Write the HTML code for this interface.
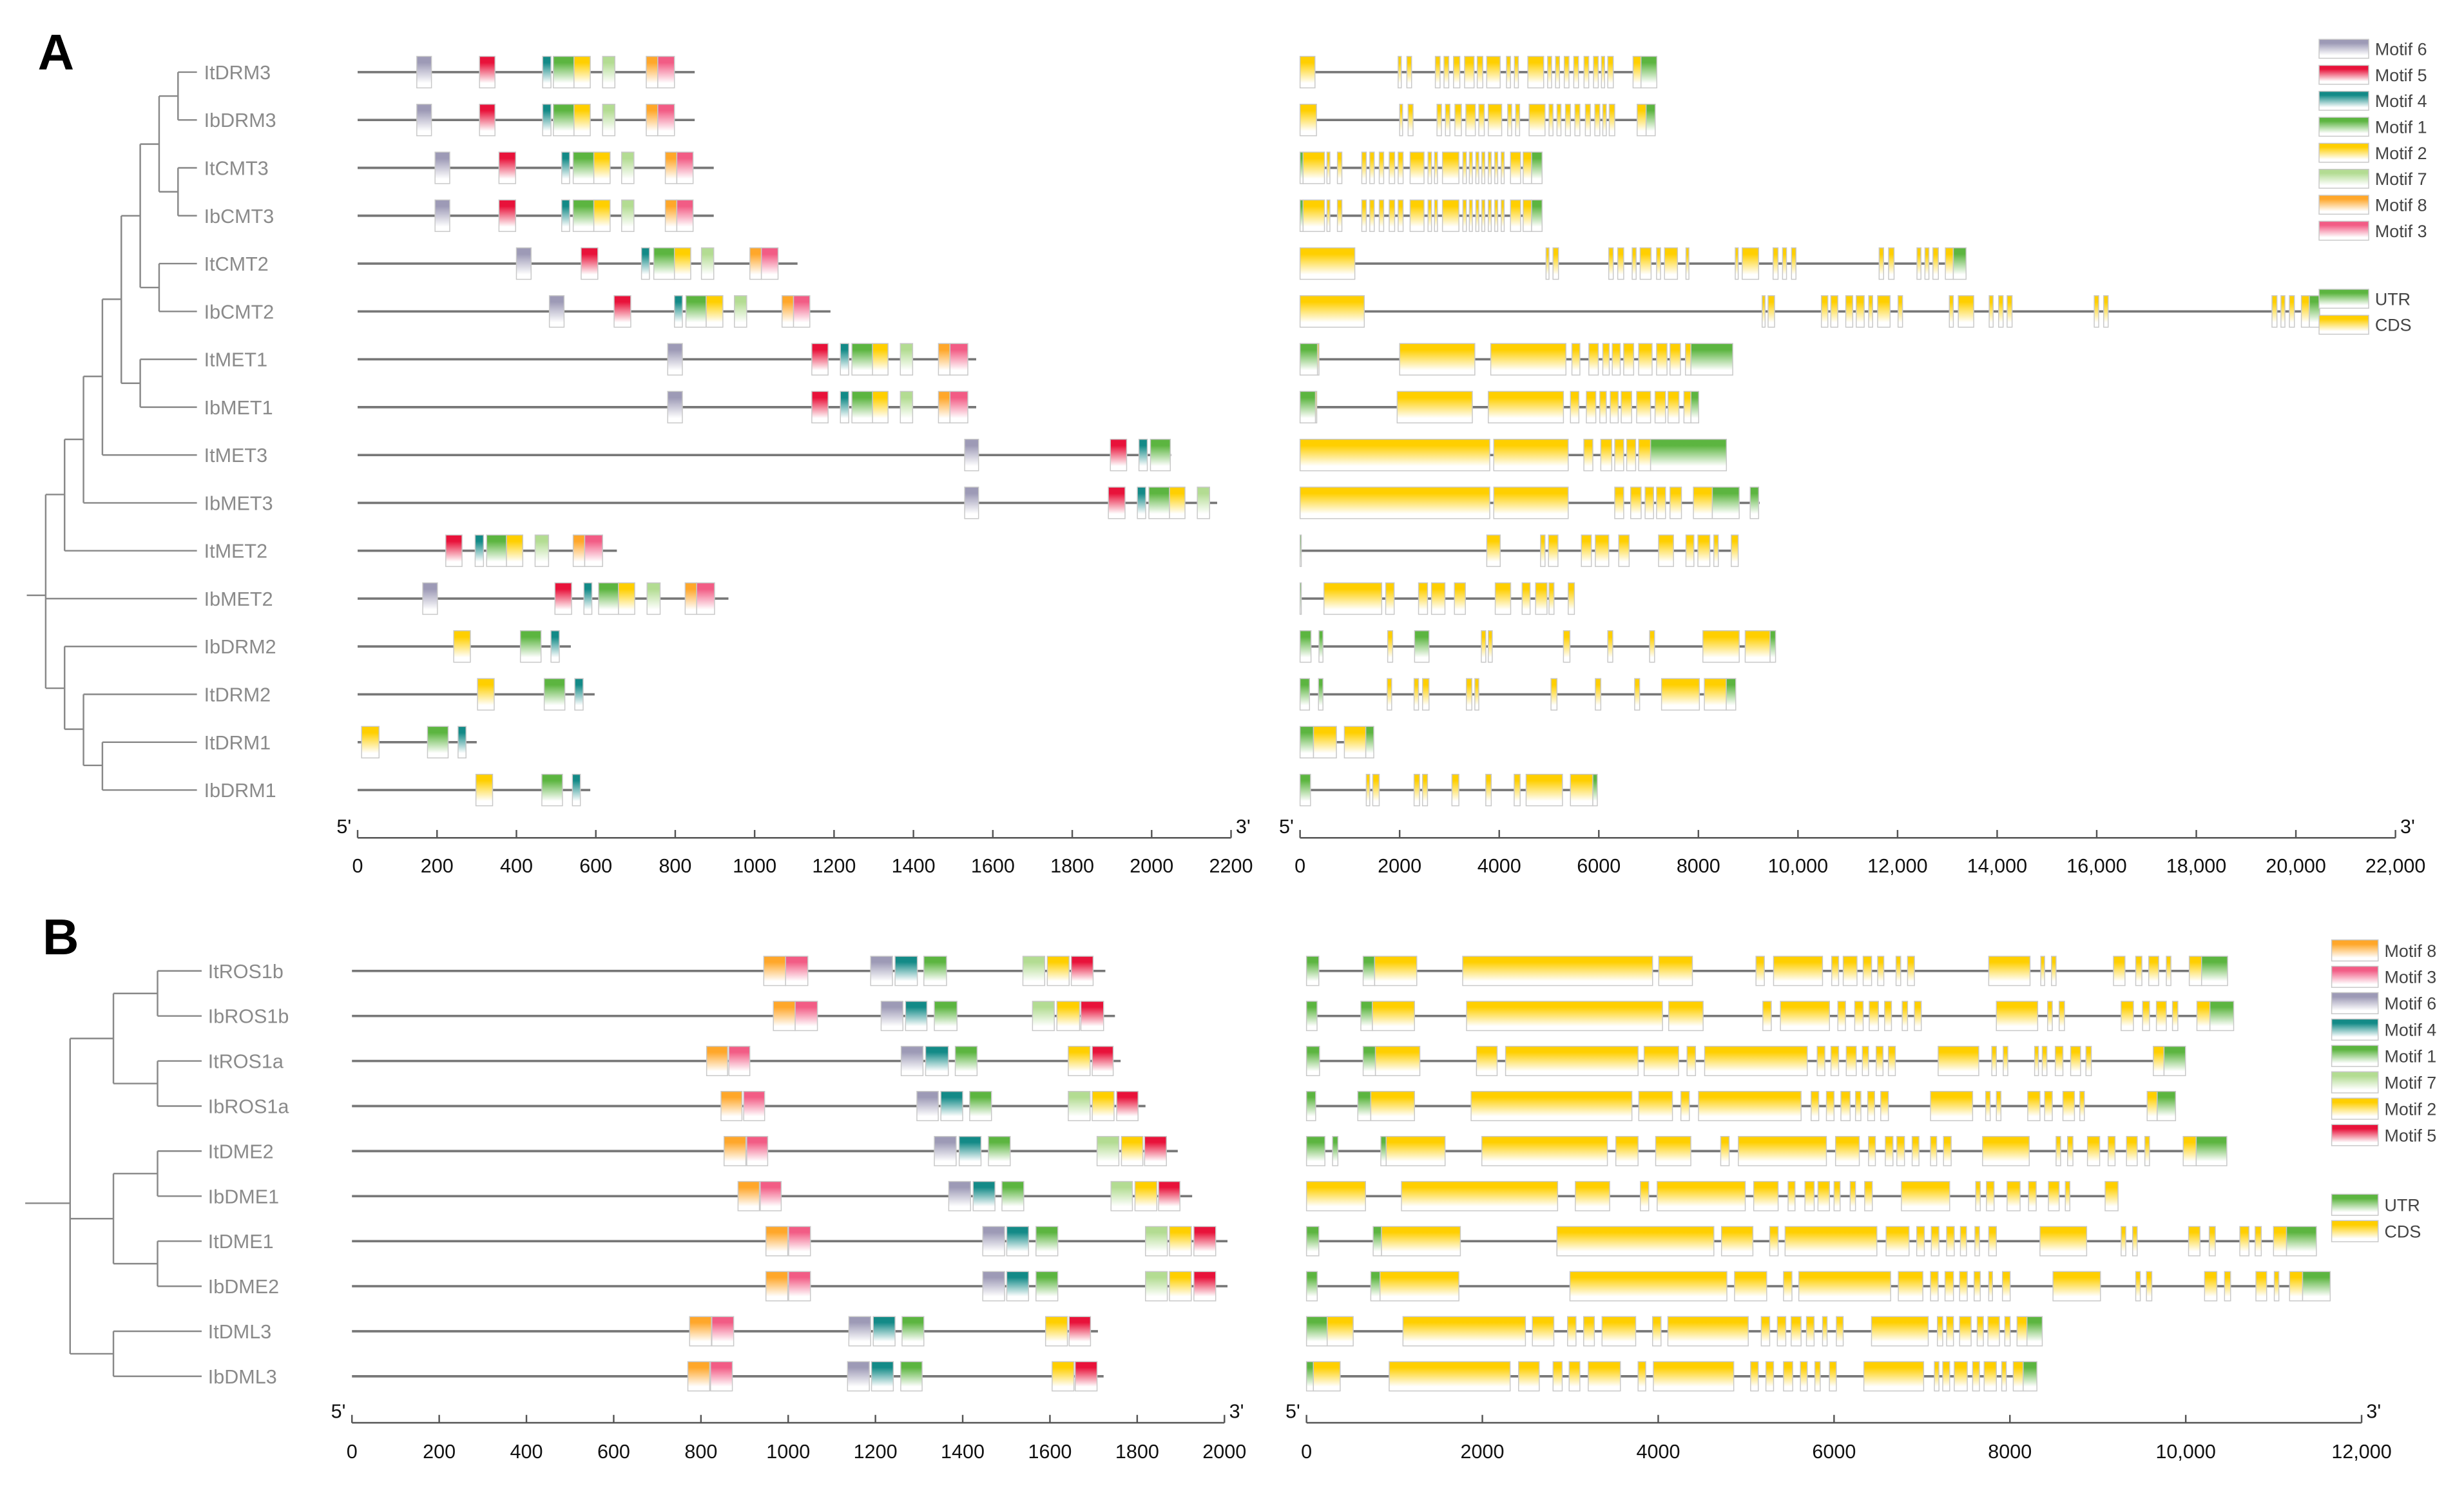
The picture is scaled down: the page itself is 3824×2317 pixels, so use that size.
<!DOCTYPE html>
<html><head><meta charset="utf-8">
<style>
html,body{margin:0;padding:0;background:#fff;}
svg{display:block;}
text{font-family:"Liberation Sans",sans-serif;}
</style></head>
<body>
<svg id="fig" xmlns="http://www.w3.org/2000/svg" width="3824" height="2317" viewBox="0 0 1564 948" preserveAspectRatio="none">
<defs id="defs"></defs>
<text x="24" y="44" font-size="32" font-weight="bold">A</text>
<text x="27" y="606" font-size="32" font-weight="bold">B</text>
<g id="treeA" stroke="#888" stroke-width="1" fill="none"></g>
<g id="treeB" stroke="#888" stroke-width="1" fill="none"></g>
<g id="plot"></g>
</svg>
<script>
// ---------- Panel A data ----------
const aNames = ["ItDRM3","IbDRM3","ItCMT3","IbCMT3","ItCMT2","IbCMT2","ItMET1","IbMET1","ItMET3","IbMET3","ItMET2","IbMET2","IbDRM2","ItDRM2","ItDRM1","IbDRM1"];
const aProtLen = [849,849,897,897,1108,1191,1558,1558,2049,2165,653,934,537,597,300,586];
const aMotifs = [
 [[6,149,186],[5,307,346],[4,466,487],[1,493,545],[2,545,586],[7,617,648],[8,727,756],[3,756,798]],
 [[6,149,186],[5,307,346],[4,466,487],[1,493,545],[2,545,586],[7,617,648],[8,727,756],[3,756,798]],
 [[6,195,232],[5,356,398],[4,514,534],[1,543,595],[2,595,636],[7,665,696],[8,775,804],[3,804,845]],
 [[6,195,232],[5,356,398],[4,514,534],[1,543,595],[2,595,636],[7,665,696],[8,775,804],[3,804,845]],
 [[6,400,437],[5,563,605],[4,715,735],[1,746,798],[2,798,839],[7,866,897],[8,988,1017],[3,1017,1059]],
 [[6,483,520],[5,646,688],[4,798,818],[1,827,878],[2,878,920],[7,949,980],[8,1069,1098],[3,1098,1139]],
 [[6,781,818],[5,1144,1185],[4,1216,1237],[1,1245,1297],[2,1297,1336],[7,1367,1398],[8,1463,1492],[3,1492,1537]],
 [[6,781,818],[5,1144,1185],[4,1216,1237],[1,1245,1297],[2,1297,1336],[7,1367,1398],[8,1463,1492],[3,1492,1537]],
 [[6,1529,1564],[5,1896,1937],[4,1968,1989],[1,1997,2047]],
 [[6,1529,1564],[5,1891,1933],[4,1964,1985],[1,1993,2045],[2,2045,2084],[7,2115,2146]],
 [[5,222,263],[4,296,317],[1,325,375],[2,375,416],[7,447,481],[8,543,572],[3,572,617]],
 [[6,164,201],[5,497,539],[4,570,590],[1,607,657],[2,657,698],[7,729,762],[8,825,854],[3,854,899]],
 [[2,242,284],[1,410,462],[4,487,508]],
 [[2,302,344],[1,470,522],[4,547,568]],
 [[2,10,54],[1,176,228],[4,253,273]],
 [[2,298,340],[1,464,516],[4,541,561]]
];
const aGeneLen = [7165,7133,4861,4861,13376,20480,8690,8006,8563,9230,8800,5510,9550,8750,1480,5970];
const aExons = [
 [[0,300,0],[1970,2033,0],[2145,2240,0],[2717,2812,0],[2891,2987,0],[3082,3209,0],[3304,3495,0],[3558,3670,0],[3749,4019,0],[4146,4226,0],[4305,4385,0],[4575,4893,0],[4972,5052,0],[5131,5211,0],[5306,5401,0],[5497,5592,0],[5703,5798,0],[5894,5989,0],[6053,6116,0],[6180,6291,0],[6688,6847,0],[6847,7165,1]],
 [[0,330,0],[2000,2060,0],[2170,2270,0],[2750,2840,0],[2920,3010,0],[3110,3240,0],[3330,3520,0],[3590,3700,0],[3780,4050,0],[4170,4250,0],[4330,4410,0],[4600,4920,0],[5000,5080,0],[5160,5240,0],[5330,5430,0],[5520,5620,0],[5730,5830,0],[5920,6020,0],[6080,6150,0],[6210,6320,0],[6770,6950,0],[6950,7133,1]],
 [[0,60,1],[60,490,0],[540,600,0],[750,840,0],[1240,1330,0],[1400,1490,0],[1590,1680,0],[1790,1900,0],[1970,2070,0],[2210,2490,0],[2570,2640,0],[2700,2760,0],[2860,3190,0],[3270,3340,0],[3400,3460,0],[3530,3590,0],[3650,3710,0],[3780,3840,0],[3910,3970,0],[4040,4100,0],[4226,4430,0],[4480,4650,0],[4650,4861,1]],
 [[0,60,1],[60,490,0],[540,600,0],[750,840,0],[1240,1330,0],[1400,1490,0],[1590,1680,0],[1790,1900,0],[1970,2070,0],[2210,2490,0],[2570,2640,0],[2700,2760,0],[2860,3190,0],[3270,3340,0],[3400,3460,0],[3530,3590,0],[3650,3710,0],[3780,3840,0],[3910,3970,0],[4040,4100,0],[4226,4430,0],[4480,4650,0],[4650,4861,1]],
 [[0,1100,0],[4940,5000,0],[5080,5190,0],[6200,6290,0],[6380,6500,0],[6670,6750,0],[6830,7050,0],[7160,7240,0],[7320,7580,0],[7750,7810,0],[8740,8800,0],[8880,9210,0],[9500,9600,0],[9690,9770,0],[9870,9960,0],[11630,11720,0],[11820,11930,0],[12390,12470,0],[12550,12630,0],[12710,12820,0],[12960,13120,0],[13120,13376,1]],
 [[0,1290,0],[9280,9340,0],[9400,9530,0],[10470,10600,0],[10660,10800,0],[10960,11100,0],[11170,11330,0],[11420,11500,0],[11600,11850,0],[12010,12100,0],[13040,13120,0],[13220,13530,0],[13840,13920,0],[14030,14120,0],[14200,14300,0],[15950,16040,0],[16140,16230,0],[19520,19620,0],[19700,19780,0],[19870,19970,0],[20110,20270,0],[20270,20480,1]],
 [[0,350,1],[350,380,0],[2000,3510,0],[3830,5340,0],[5460,5620,0],[5800,5990,0],[6080,6210,0],[6270,6430,0],[6500,6700,0],[6800,7070,0],[7160,7370,0],[7430,7640,0],[7740,7850,0],[7850,8690,1]],
 [[0,310,1],[310,330,0],[1950,3460,0],[3780,5290,0],[5430,5600,0],[5750,5940,0],[6020,6150,0],[6230,6390,0],[6450,6660,0],[6760,7040,0],[7130,7340,0],[7390,7610,0],[7710,7850,0],[7850,8006,1]],
 [[0,3810,0],[3890,5385,0],[5700,5880,0],[6040,6260,0],[6320,6500,0],[6560,6740,0],[6800,7040,0],[7040,8563,1]],
 [[0,3810,0],[3890,5385,0],[6320,6500,0],[6640,6850,0],[6930,7100,0],[7160,7340,0],[7430,7660,0],[7900,8280,0],[8280,8820,1],[9040,9210,1]],
 [[0,15,1],[3750,4020,0],[4830,4920,0],[4990,5180,0],[5650,5850,0],[5930,6200,0],[6400,6610,0],[7200,7500,0],[7750,7910,0],[7990,8230,0],[8310,8400,0],[8660,8800,0]],
 [[0,15,1],[480,1640,0],[1720,1890,0],[2380,2560,0],[2640,2910,0],[3100,3320,0],[3920,4230,0],[4460,4620,0],[4730,4960,0],[5000,5100,0],[5385,5510,0]],
 [[0,220,1],[380,460,1],[1760,1860,0],[2300,2590,1],[3640,3730,0],[3780,3860,0],[5290,5420,0],[6180,6280,0],[7020,7120,0],[8090,8820,0],[8940,9440,0],[9440,9550,1]],
 [[0,190,1],[370,460,1],[1750,1840,0],[2290,2380,0],[2460,2590,0],[3340,3450,0],[3510,3590,0],[5040,5160,0],[5930,6040,0],[6720,6820,0],[7260,8020,0],[8120,8560,0],[8560,8750,1]],
 [[0,270,1],[270,730,0],[890,1320,0],[1320,1480,1]],
 [[0,210,1],[1330,1400,0],[1460,1590,0],[2290,2400,0],[2460,2560,0],[3050,3190,0],[3730,3840,0],[4300,4420,0],[4540,5270,0],[5430,5880,0],[5880,5970,1]]
];
const aProtTicks = [0,200,400,600,800,1000,1200,1400,1600,1800,2000,2200];
const aGeneTicks = [0,2000,4000,6000,8000,10000,12000,14000,16000,18000,20000,22000];
const aGeneTickLabels = ["0","2000","4000","6000","8000","10,000","12,000","14,000","16,000","18,000","20,000","22,000"];
const aLegendMotifs = [6,5,4,1,2,7,8,3];

// ---------- Panel B data ----------
const bNames = ["ItROS1b","IbROS1b","ItROS1a","IbROS1a","ItDME2","IbDME1","ItDME1","IbDME2","ItDML3","IbDML3"];
const bProtLen = [1727,1749,1762,1819,1893,1926,2007,2007,1710,1723];
const bMotifs = [
 [[8,944,994],[3,994,1045],[6,1189,1239],[4,1245,1296],[1,1311,1363],[7,1538,1588],[2,1594,1644],[5,1649,1699]],
 [[8,966,1016],[3,1016,1067],[6,1213,1263],[4,1269,1318],[1,1335,1387],[7,1560,1610],[2,1616,1668],[5,1671,1723]],
 [[8,813,861],[3,864,912],[6,1259,1309],[4,1315,1367],[1,1383,1433],[2,1642,1692],[5,1697,1745]],
 [[8,846,894],[3,898,946],[6,1295,1344],[4,1350,1400],[1,1416,1466],[7,1642,1692],[2,1697,1747],[5,1753,1802]],
 [[8,853,903],[3,905,953],[6,1335,1385],[4,1392,1442],[1,1459,1509],[7,1708,1758],[2,1764,1813],[5,1817,1867]],
 [[8,885,934],[3,936,984],[6,1368,1418],[4,1424,1474],[1,1490,1540],[7,1740,1789],[2,1795,1845],[5,1849,1898]],
 [[8,949,999],[3,1001,1051],[6,1446,1496],[4,1501,1551],[1,1568,1618],[7,1819,1869],[2,1874,1924],[5,1930,1980]],
 [[8,949,999],[3,1001,1051],[6,1446,1496],[4,1501,1551],[1,1568,1618],[7,1819,1869],[2,1874,1924],[5,1930,1980]],
 [[8,774,824],[3,825,875],[6,1139,1189],[4,1195,1245],[1,1261,1311],[2,1590,1640],[5,1644,1693]],
 [[8,770,820],[3,822,872],[6,1136,1186],[4,1191,1241],[1,1258,1307],[2,1605,1655],[5,1658,1708]]
];
const bGeneLen = [10476,10545,9997,9884,10467,9230,11486,11643,8368,8307];
const bExons = [
 [[0,140,1],[644,775,1],[775,1254,0],[1776,3936,0],[4006,4389,0],[5112,5207,0],[5312,5869,0],[5973,6052,0],[6104,6261,0],[6331,6427,0],[6496,6566,0],[6705,6758,0],[6836,6914,0],[7759,8229,0],[8351,8395,0],[8473,8525,0],[9178,9309,0],[9431,9501,0],[9579,9692,0],[9779,9831,0],[10040,10180,0],[10180,10476,1]],
 [[0,120,1],[618,749,1],[749,1228,0],[1820,4049,0],[4119,4511,0],[5190,5286,0],[5390,5948,0],[6043,6130,0],[6235,6331,0],[6400,6505,0],[6575,6653,0],[6775,6836,0],[6914,6992,0],[7846,8316,0],[8429,8482,0],[8560,8621,0],[9265,9405,0],[9509,9588,0],[9666,9779,0],[9849,9910,0],[10127,10275,0],[10275,10545,1]],
 [[0,148,1],[644,784,1],[784,1289,0],[1933,2168,0],[2264,3771,0],[3840,4232,0],[4328,4424,0],[4528,5695,0],[5808,5895,0],[5965,6052,0],[6139,6252,0],[6322,6392,0],[6479,6557,0],[6618,6697,0],[7184,7646,0],[7794,7846,0],[7924,7976,0],[8281,8325,0],[8368,8421,0],[8516,8603,0],[8691,8804,0],[8865,8926,0],[9631,9753,0],[9753,9997,1]],
 [[0,104,1],[583,731,1],[731,1228,0],[1872,3701,0],[3779,4162,0],[4258,4354,0],[4458,5625,0],[5739,5826,0],[5913,6000,0],[6078,6183,0],[6244,6305,0],[6383,6461,0],[6531,6618,0],[7097,7576,0],[7724,7776,0],[7846,7898,0],[8203,8342,0],[8395,8482,0],[8603,8734,0],[8795,8847,0],[9561,9675,0],[9675,9884,1]],
 [[0,209,1],[296,357,1],[845,906,1],[906,1576,0],[1994,3422,0],[3518,3771,0],[3971,4371,0],[4711,4807,0],[4911,5913,0],[6017,6287,0],[6392,6470,0],[6583,6670,0],[6714,6801,0],[6888,6966,0],[7097,7167,0],[7245,7332,0],[7689,8220,0],[8525,8577,0],[8656,8717,0],[8882,9021,0],[9117,9196,0],[9326,9448,0],[9535,9588,0],[9971,10119,0],[10119,10467,1]],
 [[0,671,0],[1080,2856,0],[3057,3448,0],[3797,3892,0],[3988,4990,0],[5086,5364,0],[5477,5556,0],[5669,5774,0],[5817,5948,0],[6000,6069,0],[6183,6244,0],[6348,6435,0],[6766,7315,0],[7611,7663,0],[7733,7820,0],[7968,8116,0],[8212,8299,0],[8438,8560,0],[8630,8682,0],[9083,9230,0]],
 [[0,140,1],[758,853,1],[853,1750,0],[2848,4633,0],[4720,5077,0],[5268,5364,0],[5443,6487,0],[6592,6853,0],[6940,7027,0],[7106,7193,0],[7280,7367,0],[7437,7506,0],[7602,7654,0],[7759,7846,0],[8342,8873,0],[9265,9318,0],[9396,9448,0],[10032,10162,0],[10267,10336,0],[10615,10719,0],[10789,10859,0],[10998,11146,0],[11146,11486,1]],
 [[0,122,1],[731,836,1],[836,1733,0],[2996,4781,0],[4868,5234,0],[5425,5521,0],[5599,6644,0],[6731,7010,0],[7097,7184,0],[7262,7358,0],[7428,7515,0],[7593,7663,0],[7759,7802,0],[7915,8003,0],[8490,9030,0],[9431,9483,0],[9553,9614,0],[10214,10354,0],[10441,10510,0],[10798,10920,0],[11007,11059,0],[11181,11329,0],[11329,11643,1]],
 [[0,235,1],[235,531,0],[1097,2490,0],[2569,2813,0],[2969,3065,0],[3152,3274,0],[3361,3744,0],[3936,4032,0],[4110,5024,0],[5172,5268,0],[5355,5451,0],[5512,5625,0],[5686,5773,0],[5869,5921,0],[6026,6104,0],[6426,7071,0],[7175,7236,0],[7280,7358,0],[7428,7559,0],[7628,7698,0],[7750,7881,0],[7942,8003,0],[8081,8194,0],[8194,8368,1]],
 [[0,78,1],[78,383,0],[940,2316,0],[2412,2647,0],[2804,2908,0],[2987,3109,0],[3204,3570,0],[3771,3858,0],[3945,4859,0],[5051,5138,0],[5225,5312,0],[5425,5530,0],[5617,5695,0],[5782,5843,0],[5947,6026,0],[6339,7019,0],[7141,7193,0],[7236,7315,0],[7367,7515,0],[7576,7654,0],[7707,7846,0],[7907,7959,0],[8038,8151,0],[8151,8307,1]]
];
const bProtTicks = [0,200,400,600,800,1000,1200,1400,1600,1800,2000];
const bGeneTicks = [0,2000,4000,6000,8000,10000,12000];
const bGeneTickLabels = ["0","2000","4000","6000","8000","10,000","12,000"];
const bLegendMotifs = [8,3,6,4,1,7,2,5];

// ---------- styling ----------
const motifColors = {1:"#5cb540",2:"#ffcf00",3:"#f25c85",4:"#138a87",5:"#e8123a",6:"#9d9ab6",7:"#b3dc92",8:"#ffa72a"};
const utrColor = "#5cb540", cdsColor = "#ffcf00";
const NS = "http://www.w3.org/2000/svg";
const defs = document.getElementById('defs');
const plot = document.getElementById('plot');

function mk(tag, attrs, parent){
  const e = document.createElementNS(NS, tag);
  for (const k in attrs) e.setAttribute(k, attrs[k]);
  (parent||plot).appendChild(e);
  return e;
}
function grad(id, col){
  const g = mk('linearGradient',{id:id,x1:0,y1:0,x2:0,y2:1},defs);
  mk('stop',{offset:'0','stop-color':col},g);
  mk('stop',{offset:'0.2','stop-color':col},g);
  mk('stop',{offset:'0.85','stop-color':'#ffffff'},g);
  mk('stop',{offset:'1','stop-color':'#ffffff'},g);
}
for (const k in motifColors) grad('m'+k, motifColors[k]);
grad('utr', utrColor); grad('cds', cdsColor);

function scale(x0,x1,max){ return v => x0 + (x1-x0)*v/max; }

function box(g, x0, x1, y, h, fill){
  const r = mk('rect',{x:x0,y:y-h,width:Math.max(x1-x0,0.8),height:2*h,fill:'url(#'+fill+')',stroke:'#c8c8c8','stroke-width':0.6},g);
  return r;
}

function axis(g, sx, ticks, labels, y, labY, max){
  const ax = mk('g',{},g);
  
  
  mk('line',{x1:sx(0),x2:sx(max),y1:y,y2:y,stroke:'#555','stroke-width':1},ax);
  ticks.forEach((t,i)=>{
    mk('line',{x1:sx(t),x2:sx(t),y1:y-5,y2:y,stroke:'#555','stroke-width':1},ax);
    const tx = mk('text',{x:sx(t),y:labY,'font-size':12.5,'text-anchor':'middle',fill:'#111'},ax);
    tx.textContent = labels ? labels[i] : String(t);
    
    
  });
  const a = mk('text',{x:sx(0)-4,y:y-3,'font-size':12.5,'text-anchor':'end',fill:'#111'},ax); a.textContent="5'";
  const b = mk('text',{x:sx(max)+3,y:y-3,'font-size':12.5,fill:'#111'},ax); b.textContent="3'";
}

function panel(cfg){
  const sp = scale(cfg.px0,cfg.px1,cfg.pmax), sg = scale(cfg.gx0,cfg.gx1,cfg.gmax);
  cfg.names.forEach((nm,i)=>{
    const y = cfg.row0 + i*cfg.step;
    const lab = mk('text',{x:cfg.labX,y:y+4.5,'font-size':12.5,fill:'#8a8a8a'});
    lab.textContent = nm;
    
    
    const pg = mk('g',{});
    
    
    mk('line',{x1:sp(0),x2:sp(cfg.plen[i]),y1:y,y2:y,stroke:'#777','stroke-width':1.5},pg);
    cfg.motifs[i].forEach(m=>{
      const r = box(pg, sp(m[1]), sp(m[2]), y, cfg.h, 'm'+m[0]);
      
      
    });
    const gg = mk('g',{});
    
    
    mk('line',{x1:sg(0),x2:sg(cfg.glen[i]),y1:y,y2:y,stroke:'#777','stroke-width':1.5},gg);
    cfg.exons[i].forEach(e=>{
      const r = box(gg, sg(e[0]), sg(e[1]), y, cfg.h, e[2]?'utr':'cds');
      
      
    });
  });
  axis(plot, sp, cfg.pticks, null, cfg.axY, cfg.labY, cfg.pmax);
  axis(plot, sg, cfg.gticks, cfg.glabels, cfg.axY, cfg.labY, cfg.gmax);
  // legend
  const lg = mk('g',{});
  
  
  cfg.legend.forEach((m,i)=>{
    const y = cfg.legY0 + i*cfg.legStep;
    box(lg, cfg.legX, cfg.legX+cfg.legW, y, cfg.legH, 'm'+m);
    const t = mk('text',{x:cfg.legX+cfg.legW+4,y:y+4,'font-size':11,fill:'#444'},lg);
    t.textContent = 'Motif '+m;
    
    
  });
  [['utr','UTR'],['cds','CDS']].forEach((p,i)=>{
    const y = cfg.legU + i*cfg.legStep;
    box(lg, cfg.legX, cfg.legX+cfg.legW, y, cfg.legH, p[0]);
    const t = mk('text',{x:cfg.legX+cfg.legW+4,y:y+4,'font-size':11,fill:'#444'},lg);
    t.textContent = p[1];
    
    
  });
}

panel({names:aNames,plen:aProtLen,motifs:aMotifs,glen:aGeneLen,exons:aExons,
  px0:227,px1:781.4,pmax:2200,gx0:825.2,gx1:1520.5,gmax:22000,
  row0:45.8,step:30.39,h:10,labX:129.5,axY:532,labY:554,
  pticks:aProtTicks,gticks:aGeneTicks,glabels:aGeneTickLabels,
  legend:aLegendMotifs,legX:1472,legW:31.5,legH:6,legY0:31,legStep:16.5,legU:189.7});
panel({names:bNames,plen:bProtLen,motifs:bMotifs,glen:bGeneLen,exons:bExons,
  px0:223.4,px1:777.2,pmax:2000,gx0:829.3,gx1:1499,gmax:12000,
  row0:616.5,step:28.6,h:9.3,labX:132,axY:903.4,labY:926,
  pticks:bProtTicks,gticks:bGeneTicks,glabels:bGeneTickLabels,
  legend:bLegendMotifs,legX:1480,legW:29.5,legH:6.7,legY0:603.5,legStep:16.75,legU:765});

// ---------- trees ----------
function tree(id, segs){
  const g = document.getElementById(id);
  const d = segs.map(s=>'M'+s[0]+' '+s[1]+'L'+s[2]+' '+s[3]).join('');
  mk('path',{d:d},g);
}
const rA = i => 45.8 + i*30.39;
const mA = (a,b) => (a+b)/2;
tree('treeA', [
 [113,rA(0),125,rA(0)],[113,rA(1),125,rA(1)],[113,rA(0),113,rA(1)],
 [113,rA(2),125,rA(2)],[113,rA(3),125,rA(3)],[113,rA(2),113,rA(3)],
 [101,mA(rA(0),rA(1)),113,mA(rA(0),rA(1))],[101,mA(rA(2),rA(3)),113,mA(rA(2),rA(3))],[101,mA(rA(0),rA(1)),101,mA(rA(2),rA(3))],
 [101,rA(4),125,rA(4)],[101,rA(5),125,rA(5)],[101,rA(4),101,rA(5)],
 [89,91.5,101,91.5],[89,rA(4.5),101,rA(4.5)],[89,91.5,89,rA(4.5)],
 [89,rA(6),125,rA(6)],[89,rA(7),125,rA(7)],[89,rA(6),89,rA(7)],
 [77,137,89,137],[77,rA(6.5),89,rA(6.5)],[77,137,77,rA(6.5)],
 [65,190,77,190],[65,rA(8),125,rA(8)],[65,190,65,rA(8)],
 [53,239,65,239],[53,rA(9),125,rA(9)],[53,239,53,rA(9)],
 [41,279,53,279],[41,rA(10),125,rA(10)],[41,279,41,rA(10)],
 [29,314,41,314],[29,rA(11),125,rA(11)],[29,314,29,437],[17,378,29,378],
 [41,437,29,437],[41,rA(12),125,rA(12)],[41,rA(12),41,463],
 [53,463,41,463],[53,rA(13),125,rA(13)],[53,rA(13),53,486],
 [65,486,53,486],[65,rA(14),125,rA(14)],[65,rA(15),125,rA(15)],[65,rA(14),65,rA(15)]
]);
const rB = i => 616.5 + i*28.6;
tree('treeB', [
 [100,rB(0),128,rB(0)],[100,rB(1),128,rB(1)],[100,rB(0),100,rB(1)],
 [100,rB(2),128,rB(2)],[100,rB(3),128,rB(3)],[100,rB(2),100,rB(3)],
 [72,rB(0.5),100,rB(0.5)],[72,rB(2.5),100,rB(2.5)],[72,rB(0.5),72,rB(2.5)],
 [100,rB(4),128,rB(4)],[100,rB(5),128,rB(5)],[100,rB(4),100,rB(5)],
 [100,rB(6),128,rB(6)],[100,rB(7),128,rB(7)],[100,rB(6),100,rB(7)],
 [72,rB(4.5),100,rB(4.5)],[72,rB(6.5),100,rB(6.5)],[72,rB(4.5),72,rB(6.5)],
 [44.5,rB(1.5),72,rB(1.5)],[44.5,rB(5.5),72,rB(5.5)],
 [72,rB(8),128,rB(8)],[72,rB(9),128,rB(9)],[72,rB(8),72,rB(9)],
 [44.5,rB(8.5),72,rB(8.5)],[44.5,rB(1.5),44.5,rB(8.5)],[16,764,44.5,764]
]);
</script>
</body></html>
